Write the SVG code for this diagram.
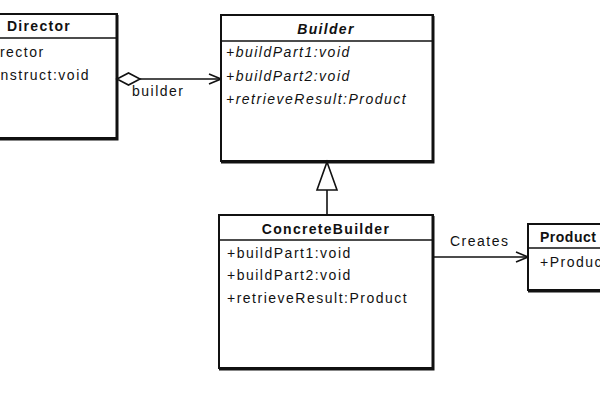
<svg xmlns="http://www.w3.org/2000/svg" width="600" height="400" viewBox="0 0 600 400">
<style>
.box{fill:#fff;stroke:#111;stroke-width:2}
.sep{stroke:#111;stroke-width:1.5}
.shadow{fill:none;stroke:#111;stroke-width:3}
text{font-family:"Liberation Sans",Arial,sans-serif;font-size:14px;fill:#111;letter-spacing:1.5px}
.title{font-weight:bold;text-anchor:middle;letter-spacing:1.3px}
.it{font-style:italic}
.line{fill:none;stroke:#111;stroke-width:1.6}
</style>
<defs>
<marker id="open" markerWidth="14" markerHeight="12" refX="13" refY="6" orient="auto" markerUnits="userSpaceOnUse">
<path d="M1,1 L13,6 L1,11" fill="none" stroke="#111" stroke-width="1.6"/>
</marker>
</defs>
<rect width="600" height="400" fill="#fff"/>
<g id="director">
<rect class="box" x="-40" y="14" width="157" height="124"/>
<path class="shadow" d="M117,15 V139 H-40"/>
<line class="sep" x1="-40" y1="38" x2="117" y2="38"/>
<text class="title" x="39" y="31">Director</text>
<text x="-26" y="57">+Director</text>
<text x="-27" y="80">+construct:void</text>
</g>
<g id="builder">
<rect class="box" x="221" y="15" width="212" height="146"/>
<path class="shadow" d="M433,16 V162 H221"/>
<line class="sep" x1="221" y1="41" x2="433" y2="41"/>
<text class="title it" x="326" y="34">Builder</text>
<text class="it" x="226" y="57">+buildPart1:void</text>
<text class="it" x="226" y="81">+buildPart2:void</text>
<text class="it" x="226" y="104">+retrieveResult:Product</text>
</g>
<g id="concretebuilder">
<rect class="box" x="219" y="215" width="214" height="153"/>
<path class="shadow" d="M433,216 V369 H219"/>
<line class="sep" x1="219" y1="240" x2="433" y2="240"/>
<text class="title" x="326" y="234">ConcreteBuilder</text>
<text x="227" y="258">+buildPart1:void</text>
<text x="227" y="280">+buildPart2:void</text>
<text x="227" y="303">+retrieveResult:Product</text>
</g>
<g id="product">
<rect class="box" x="528" y="224" width="90" height="66"/>
<path class="shadow" d="M528,291 H610"/>
<line class="sep" x1="528" y1="248" x2="610" y2="248"/>
<text x="540" y="242" font-weight="bold" style="letter-spacing:0.5px">Product</text>
<text x="540" y="267">+Product</text>
</g>
<g id="connectors">
<path class="line" d="M140,79 H221" marker-end="url(#open)"/>
<path d="M117,79 L128.5,73 L140,79 L128.5,85 Z" fill="#fff" stroke="#111" stroke-width="1.6"/>
<text x="132" y="96">builder</text>
<line class="line" x1="327" y1="190" x2="327" y2="215"/>
<path d="M327,162 L337,190 L317,190 Z" fill="#fff" stroke="#111" stroke-width="1.6"/>
<path class="line" d="M433,257 H528" marker-end="url(#open)"/>
<text x="450" y="246">Creates</text>
</g>
</svg>
